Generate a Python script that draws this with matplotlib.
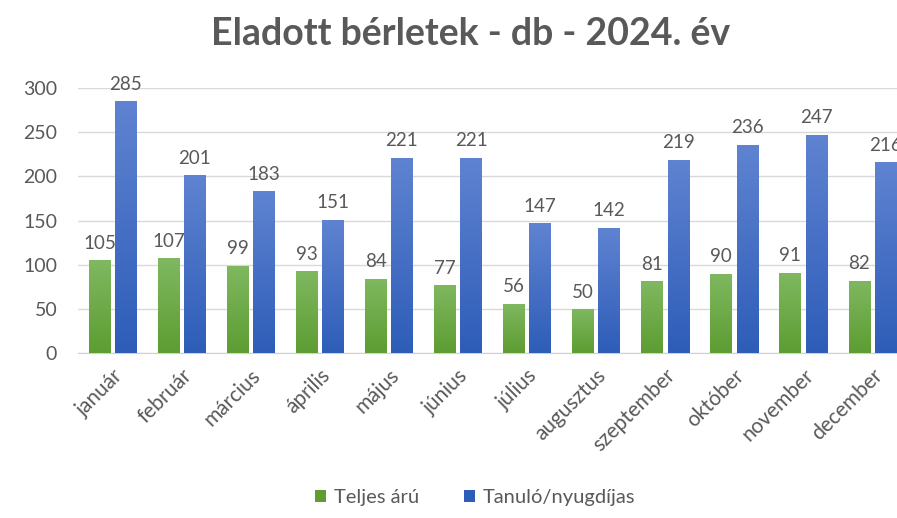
import matplotlib.pyplot as plt
import numpy as np
from matplotlib.colors import LinearSegmentedColormap

plt.rcParams['font.family'] = ['Lato', 'DejaVu Sans']

months = ['január', 'február', 'március', 'április', 'május', 'június',
          'július', 'augusztus', 'szeptember', 'október', 'november', 'december']
teljes = [105, 107, 99, 93, 84, 77, 56, 50, 81, 90, 91, 82]
tanulo = [285, 201, 183, 151, 221, 221, 147, 142, 219, 236, 247, 216]

TXT = '#595959'
GREEN = ('#5d9d32', '#7fb860')
BLUE = ('#2e5db8', '#5f83d1')

fig = plt.figure(figsize=(8.97, 5.18), dpi=100)
ax = fig.add_axes([0.087, 0.3185, 0.924, 0.5116])

x = np.arange(len(months))
w = 0.31
off = 0.19


def gradient_bars(bars, cols):
    cmap = LinearSegmentedColormap.from_list('g', cols)
    grad = np.linspace(0, 1, 100).reshape(-1, 1)
    for b in bars:
        x0, y0 = b.get_x(), b.get_y()
        bw, bh = b.get_width(), b.get_height()
        im = ax.imshow(grad, extent=[x0, x0 + bw, y0, y0 + bh], origin='lower',
                       cmap=cmap, aspect='auto', zorder=3)
        im.set_clip_path(b)


b1 = ax.bar(x - off, teljes, w, color=GREEN[0], zorder=2, label='Teljes árú')
b2 = ax.bar(x + off, tanulo, w, color=BLUE[0], zorder=2, label='Tanuló/nyugdíjas')
gradient_bars(b1, GREEN)
gradient_bars(b2, BLUE)

for bars in (b1, b2):
    for b in bars:
        ax.annotate(f'{int(b.get_height())}', (b.get_x() + b.get_width() / 2, b.get_height()),
                    xytext=(0, 6), textcoords='offset points', ha='center', va='bottom',
                    fontsize=13.5, color=TXT)

ax.set_xlim(-0.5, len(months) - 0.5)
ax.set_ylim(0, 300)
ax.set_yticks(range(0, 301, 50))
ax.yaxis.grid(True, color='#d9d9d9', linewidth=1, zorder=0)
ax.set_axisbelow(True)
for s in ('top', 'right', 'left'):
    ax.spines[s].set_visible(False)
ax.spines['bottom'].set_color('#d0d0d0')
ax.tick_params(axis='y', length=0, labelsize=14, labelcolor=TXT, pad=15)
ax.tick_params(axis='x', length=0, labelsize=15, labelcolor=TXT, pad=9)
ax.set_xticks(x)
ax.set_xticklabels(months, rotation=45, ha='right', rotation_mode='anchor')

fig.text(0.525, 0.935, 'Eladott bérletek - db - 2024. év', ha='center', va='center',
         fontsize=27, fontweight='bold', color=TXT)

leg = fig.legend(handles=[b1, b2], loc='center', bbox_to_anchor=(0.53, 0.04), ncol=2,
                 frameon=False, fontsize=14.5, handlelength=0.55, handleheight=0.55,
                 columnspacing=2.2, handletextpad=0.4)
for t in leg.get_texts():
    t.set_color(TXT)

fig.savefig('out.png', dpi=100)
